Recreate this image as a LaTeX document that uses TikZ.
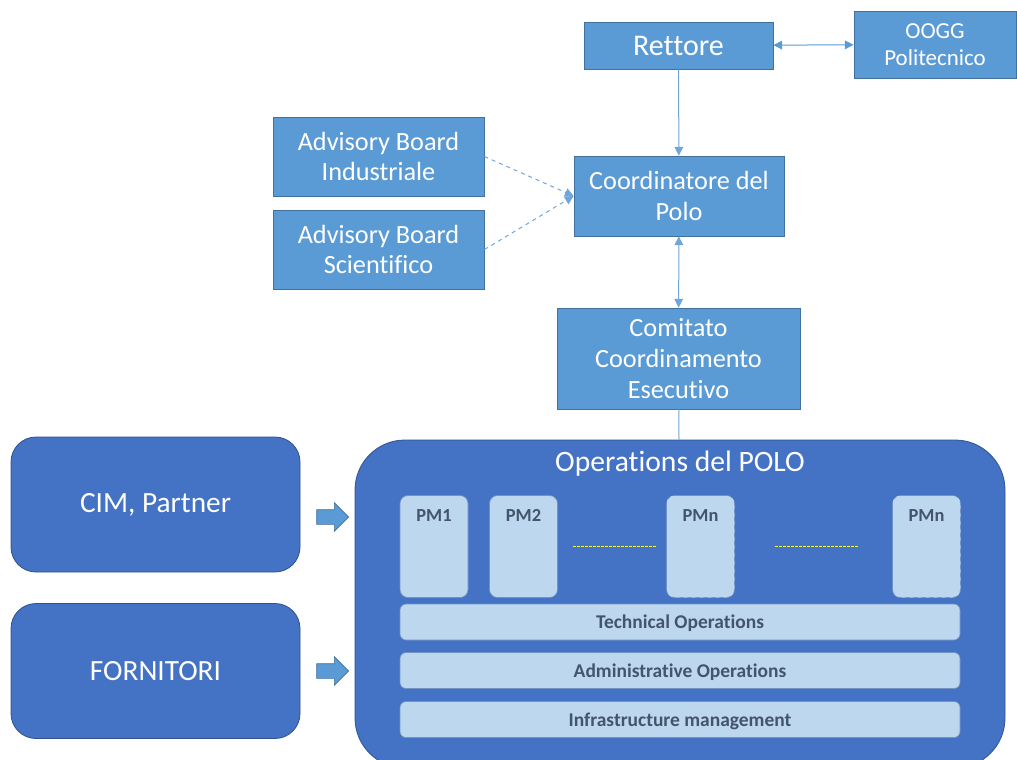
\documentclass[tikz,border=0pt]{standalone}
\usepackage{fontspec}
\setmainfont{Carlito}[Ligatures=NoCommon]
\usetikzlibrary{arrows.meta,shapes.arrows}
\definecolor{boxblue}{HTML}{5B9BD5}
\definecolor{boxline}{HTML}{41719C}
\definecolor{opsblue}{HTML}{4472C4}
\definecolor{opsline}{HTML}{2F528F}
\definecolor{pmfill}{HTML}{BDD7EE}
\definecolor{pmline}{HTML}{7393C4}
\definecolor{pmtext}{HTML}{44546A}
\definecolor{conn}{HTML}{6FA5DA}
\definecolor{dotyellow}{rgb}{1,1,0}
\begin{document}
\begin{tikzpicture}[x=0.75pt, y=-0.75pt, >={Triangle[length=6.5pt,width=6.5pt]},
  org/.style={draw=boxline, fill=boxblue, text=white, align=center, inner sep=2pt, line width=0.6pt},
  grp/.style={draw=opsline, fill=opsblue, text=white, align=center, rounded corners=18.75pt, line width=0.6pt,
    minimum width=216.75pt, minimum height=101.25pt, font=\fontsize{22}{26}\selectfont},
  pm/.style={draw=pmline, fill=pmfill, rounded corners=6pt, minimum width=51pt, minimum height=76.5pt, line width=0.5pt},
  pmlabel/.style={anchor=north, yshift=-7.5pt, text=pmtext, font=\fontsize{13.8}{16}\selectfont\bfseries},
  opsbar/.style={draw=pmline, fill=pmfill, rounded corners=4.5pt, minimum width=420pt, minimum height=27pt,
    text=pmtext, font=\fontsize{14.6}{17}\selectfont\bfseries, line width=0.5pt, text depth=0pt},
  blockarrow/.style={single arrow, draw=boxline, fill=boxblue, inner sep=5.25pt, minimum height=24pt,
    single arrow head extend=5.25pt, line width=0.5pt},
  link/.style={draw=conn, line width=0.75pt},
  gap/.style={draw=dotyellow, dash pattern=on 2pt off 1pt, line width=0.9pt}]
\useasboundingbox (0,0) rectangle (1017,760);
\begin{scope}
\clip (0,0) rectangle (1017,760);
% top of the organisation
\node[org, minimum width=141.75pt, minimum height=35.25pt, font=\fontsize{22.5}{26}\selectfont] (rett) at (678.5,45.5) {Rettore};
\node[org, minimum width=121.5pt, minimum height=50.25pt, font=\fontsize{17.2}{20.5}\selectfont] (oogg) at (935,44.5) {OOGG\\Politecnico};
\node[org, minimum width=158.25pt, minimum height=59.25pt, font=\fontsize{19.7}{23}\selectfont] (abi) at (378.5,156.5) {Advisory Board\\Industriale};
\node[org, minimum width=158.25pt, minimum height=59.25pt, font=\fontsize{19.7}{23}\selectfont] (abs) at (378.5,249.5) {Advisory Board\\Scientifico};
\node[org, minimum width=157.5pt, minimum height=60pt, font=\fontsize{19.7}{23}\selectfont] (coord) at (679,196) {Coordinatore del\\Polo};
\node[org, minimum width=182.25pt, minimum height=75.75pt, font=\fontsize{19.7}{23}\selectfont] (cce) at (678.5,358.5) {Comitato\\Coordinamento\\Esecutivo};
% operations
\node[draw=opsline, fill=opsblue, rounded corners=37.5pt, minimum width=487.5pt, minimum height=246pt, line width=0.6pt,
  label={[anchor=north, yshift=-5pt, text=white, font=\fontsize{22.2}{26}\selectfont]north:Operations del POLO}] (ops) at (680,604) {};
\node[grp] (cim) at (155.5,504.5) {CIM, Partner};
\node[grp] (forn) at (155.5,671) {FORNITORI};
\node[blockarrow] (arrcim) at (329,517) {};
\node[blockarrow] (arrforn) at (329,671) {};
\node[pm, label={[pmlabel]north:PM1}] (pm1) at (434,546.5) {};
\node[pm, label={[pmlabel]north:PM2}] (pm2) at (523.5,546.5) {};
\node[pm, dashed, label={[pmlabel]north:PMn}] (pmn) at (700.5,546.5) {};
\node[pm, dashed, label={[pmlabel]north:PMn}] (pmm) at (926.5,546.5) {};
\node[opsbar] (tech) at (680,622) {Technical Operations};
\node[opsbar] (adm) at (680,670.5) {Administrative Operations};
\node[opsbar] (infra) at (680,719.5) {Infrastructure management};
\end{scope}
% connectors
\draw[link, <->, color=boxblue] (rett) -- (oogg);
\draw[link, ->] (rett) -- (coord);
\draw[link, <->] (coord) -- (cce);
\draw[link] (cce) -- (ops);
\draw[link, dashed, ->] (abi.east) -- (coord.west);
\draw[link, dashed, ->] (abs.east) -- (coord.west);
\draw[gap, shorten <=11.25pt, shorten >=7.5pt] (pm2.east) -- (pmn.west);
\draw[gap, shorten <=30pt, shorten >=25.5pt] (pmn.east) -- (pmm.west);
\end{tikzpicture}
\end{document}
